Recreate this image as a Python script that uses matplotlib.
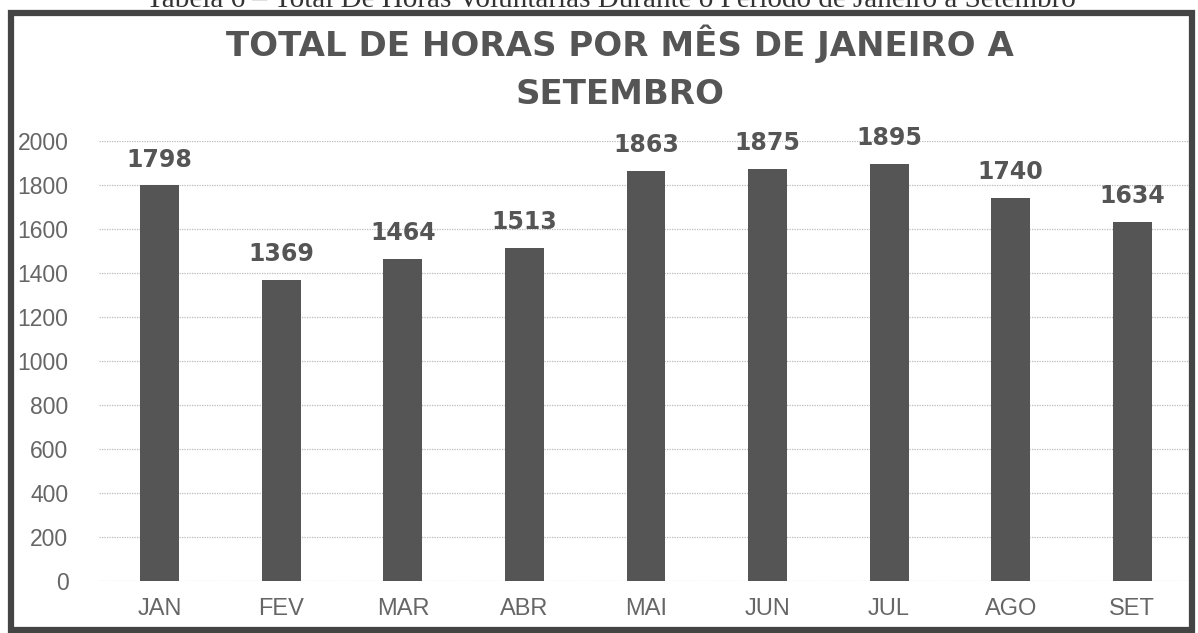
import matplotlib
matplotlib.use("Agg")
import matplotlib.pyplot as plt
from matplotlib.patches import Rectangle

# dados do gráfico
meses = ["JAN", "FEV", "MAR", "ABR", "MAI", "JUN", "JUL", "AGO", "SET"]
horas = [1798, 1369, 1464, 1513, 1863, 1875, 1895, 1740, 1634]
y_ticks = [0, 200, 400, 600, 800, 1000, 1200, 1400, 1600, 1800, 2000]

titulo_linha1 = "TOTAL DE HORAS POR MÊS DE JANEIRO A"
titulo_linha2 = "SETEMBRO"
legenda_tabela = "Tabela 6 \u2013 Total De Horas Voluntárias Durante o Período de Janeiro a Setembro"

W, H = 1198, 633
fig = plt.figure(figsize=(W / 100, H / 100), dpi=100)
fig.patch.set_facecolor("white")

ax = fig.add_axes([99 / W, 52 / H, 1094 / W, 440 / H])
x = list(range(len(meses)))
bars = ax.bar(x, horas, width=0.32, color="#555555", zorder=3)

ax.set_xlim(-0.5, 8.5)
ax.set_ylim(0, 2000)
ax.set_yticks(y_ticks)
ax.set_xticks(x)
ax.set_xticklabels(meses, fontsize=17, color="#666666", family="Liberation Sans")
ax.set_yticklabels([str(v) for v in y_ticks], fontsize=16.5, color="#666666", family="Liberation Sans")
ax.tick_params(axis="y", length=0, pad=22)
ax.tick_params(axis="x", length=0, pad=12)

ax.grid(axis="y", color="#bbbbbb", linestyle=(0, (1, 1)), linewidth=0.9, zorder=0)
for s in ax.spines.values():
    s.set_visible(False)

for b, v in zip(bars, horas):
    ax.annotate(str(v), (b.get_x() + b.get_width() / 2, v), xytext=(0, 10),
                textcoords="offset points", ha="center", va="bottom",
                fontsize=17, fontweight="bold", color="#555555", family="DejaVu Sans")

# titulo em duas linhas
fig.text(620 / W, 1 - 44 / H, titulo_linha1, ha="center", va="center",
         fontsize=24.5, fontweight="bold", color="#555555", family="DejaVu Sans")
fig.text(620 / W, 1 - 94 / H, titulo_linha2, ha="center", va="center",
         fontsize=24.5, fontweight="bold", color="#555555", family="DejaVu Sans")

# legenda da tabela, cortada no topo da digitalizacao
fig.text(611 / W, 1 - 7 / H, legenda_tabela, ha="center", va="baseline",
         fontsize=21, color="#333333", family="Liberation Serif")

# moldura
fig.patches.append(Rectangle((11 / W, 3 / H), 1181 / W, 617 / H, transform=fig.transFigure,
                             fill=False, edgecolor="#444444", linewidth=4.5))

fig.savefig("out.png", dpi=100)
